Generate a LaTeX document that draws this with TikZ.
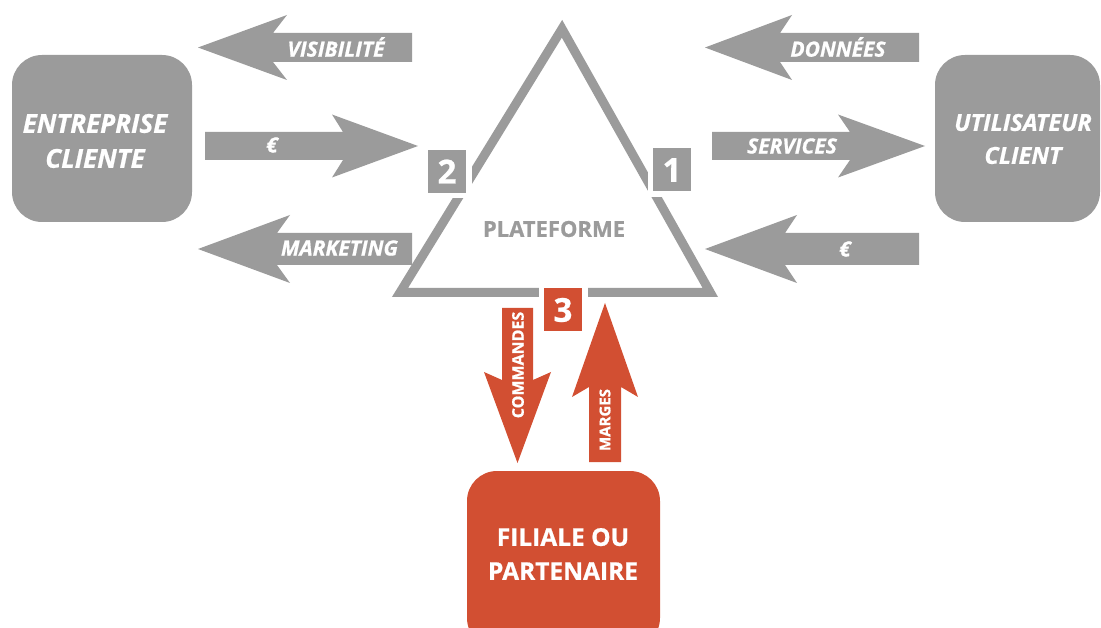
\documentclass[tikz,border=0pt]{standalone}
\usepackage{fontspec}
\setmainfont{Open Sans}[BoldFeatures={FakeBold=0.8},BoldItalicFeatures={FakeBold=0.8}]
\definecolor{gr}{HTML}{9B9B9B}
\definecolor{rd}{HTML}{D24F32}
\newcommand\hblk[8]{\fill[#8] (#1,#2) -- (#3,{#2-#7}) -- (#4,{#2-#6}) -- (#5,{#2-#6}) -- (#5,{#2+#6}) -- (#4,{#2+#6}) -- (#3,{#2+#7}) -- cycle;}
\newcommand\vblk[8]{\fill[#8] (#2,#1) -- ({#2-#7},#3) -- ({#2-#6},#4) -- ({#2-#6},#5) -- ({#2+#6},#5) -- ({#2+#6},#4) -- ({#2+#7},#3) -- cycle;}
\tikzset{
  bigbox/.style={rounded corners=30pt, inner sep=0pt},
  bigtext/.style={text=white, inner sep=0pt, align=center},
  lbl/.style={text=white, inner sep=0pt, font=\bfseries\itshape\fontsize{21}{24}\selectfont},
  vlbl/.style={text=white, inner sep=0pt, rotate=90},
  numbox/.style={minimum width=38pt, minimum height=43pt, inner sep=0pt, text=white,
    font=\bfseries\fontsize{33}{33}\selectfont, preaction={draw=white, line width=11pt}},
}
\begin{document}
\begin{tikzpicture}[x=1pt,y=-1pt]
\useasboundingbox (0,0) rectangle (1101,628);
\clip (0,0) rectangle (1101,628);
% boxes
\node[bigbox, fill=gr, minimum width=180pt, minimum height=167pt] (ent) at (102,138.5) {};
\node[bigtext, font=\bfseries\itshape\fontsize{26}{35}\selectfont] (entt) at (95,141) {ENTREPRISE\\CLIENTE};
\node[bigbox, fill=gr, minimum width=165pt, minimum height=167pt] (util) at (1017.5,138.5) {};
\node[bigtext, font=\bfseries\itshape\fontsize{23.5}{33}\selectfont] (utilt) at (1023,139) {UTILISATEUR\\CLIENT};
\node[bigbox, fill=rd, minimum width=193pt, minimum height=177pt] (fil) at (563.5,559.5) {};
\node[bigtext, font=\bfseries\fontsize{24.5}{34}\selectfont] (filt) at (563,554) {FILIALE OU\\PARTENAIRE};
% triangle
\draw[gr, line width=9pt] (562,28.8) -- (710.3,292.5) -- (400,292.5) -- cycle;
\node[text=gr, inner sep=0pt, font=\bfseries\fontsize{22}{24}\selectfont] (plat) at (554,229) {PLATEFORME};
% number boxes
\node[numbox, fill=gr] (n2) at (447,171.5) {2};
\node[numbox, fill=gr] (n1) at (672,170) {1};
\node[numbox, fill=rd] (n3) at (563,310) {3};
% left arrows
\hblk{198}{47.5}{287}{273}{412}{14.5}{32.5}{gr}
\hblk{418}{146}{332}{343}{205}{14}{31.5}{gr}
\hblk{198}{249}{290}{277}{412}{16}{34}{gr}
% right arrows
\hblk{705}{47.5}{792}{780}{919}{14.5}{32.5}{gr}
\hblk{925}{146}{838}{850}{712}{14}{31.5}{gr}
\hblk{705}{249}{797}{785}{919}{16}{34}{gr}
% vertical arrows
\vblk{463}{517.5}{372}{380}{308}{15.5}{33.5}{rd}
\vblk{303}{605}{397}{387}{462}{16}{33}{rd}
% labels
\node[lbl] (lvis) at (336,47) {VISIBILITÉ};
\node[lbl] (leurl) at (272,145) {€};
\node[lbl] (lmkt) at (339.5,248) {MARKETING};
\node[lbl] (ldon) at (838,47) {DONNÉES};
\node[lbl] (lserv) at (792,146) {SERVICES};
\node[lbl] (leurr) at (845,249) {€};
\node[vlbl, font=\bfseries\fontsize{16}{18}\selectfont] (lcom) at (518,365) {COMMANDES};
\node[vlbl, font=\bfseries\fontsize{15}{18}\selectfont] (lmar) at (605,420) {MARGES};
\end{tikzpicture}
\end{document}
